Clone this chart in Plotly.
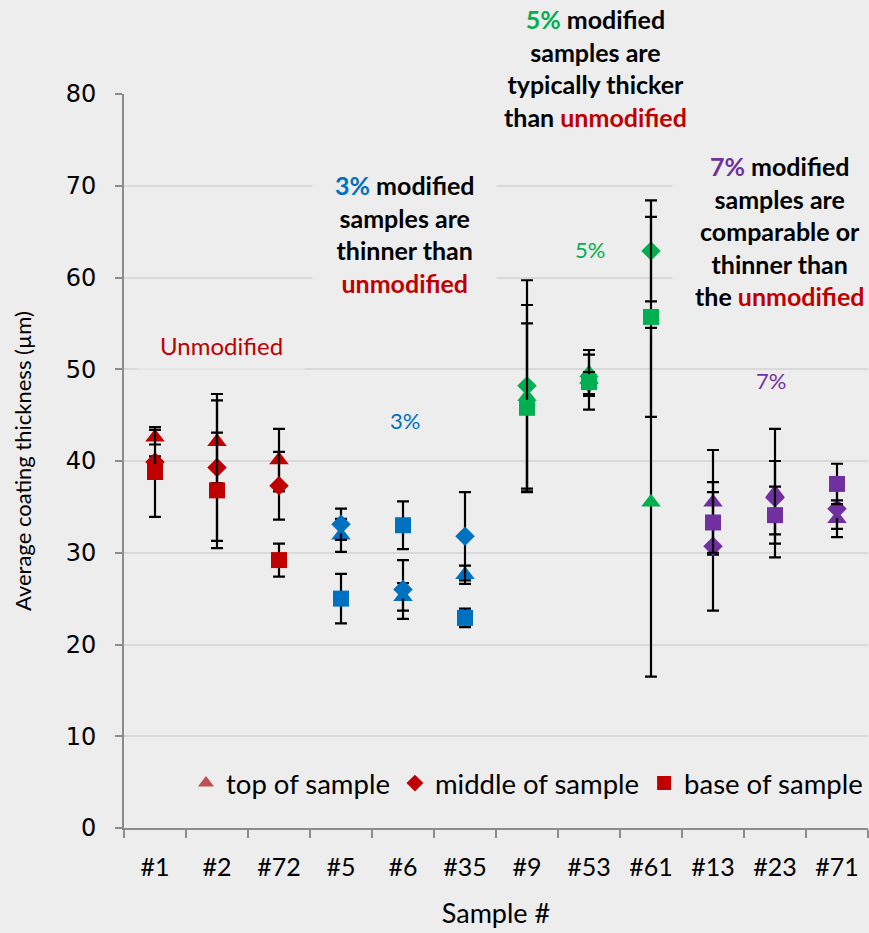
import plotly.graph_objects as go

# Sample labels along the x axis
samples = ["#1", "#2", "#72", "#5", "#6", "#35", "#9", "#53", "#61", "#13", "#23", "#71"]

# Average coating thickness (µm) and standard deviation at each sampling position
top_vals = [42.6, 42.1, 40.1, 31.9, 25.2, 27.6, 47.0, 49.6, 35.5, 35.5, 36.5, 33.7]
top_err = [0.8, 4.5, 3.4, 1.8, 1.5, 1.0, 10.0, 2.5, 19.0, 5.7, 7.0, 2.0]

middle_vals = [39.9, 39.3, 37.3, 33.1, 26.0, 31.8, 48.2, 48.5, 62.9, 30.7, 36.0, 34.8]
middle_err = [0.6, 8.0, 3.7, 1.7, 3.2, 4.8, 11.5, 1.2, 5.5, 7.0, 4.0, 2.2]

base_vals = [38.8, 36.8, 29.2, 25.0, 33.0, 22.9, 45.8, 48.6, 55.7, 33.3, 34.1, 37.5]
base_err = [4.9, 6.3, 1.8, 2.7, 2.6, 1.0, 9.2, 3.0, 10.9, 3.3, 3.1, 2.2]

# Modification level of each sample (unmodified, 3%, 5%, 7%)
groups = ["0%"] * 3 + ["3%"] * 3 + ["5%"] * 3 + ["7%"] * 3
group_colors = {"0%": "#C00000", "3%": "#0070C0", "5%": "#00B050", "7%": "#7030A0"}
point_colors = [group_colors[g] for g in groups]

BG = "#EDEDED"
GRID = "#D9D9D9"
AXIS = "#8C8C8C"
FONT = "Lato"

fig = go.Figure()

series = [
    ("top of sample", top_vals, top_err, "triangle-up", 17, 14, "#C0504D"),
    ("middle of sample", middle_vals, middle_err, "diamond", 15, 13, "#C00000"),
    ("base of sample", base_vals, base_err, "square", 16, 14, "#C00000"),
]

for name, vals, err, symbol, size, _, _ in series:
    fig.add_trace(go.Scatter(
        x=samples, y=vals, mode="markers", showlegend=False, name=name,
        marker=dict(symbol=symbol, size=size, color=point_colors, line=dict(width=0)),
        error_y=dict(type="data", array=err, symmetric=True,
                     color="#000000", thickness=2.2, width=6),
        cliponaxis=False,
    ))

# Legend entries with a single colour each
for name, vals, err, symbol, _, lsize, legend_color in series:
    fig.add_trace(go.Scatter(
        x=[None], y=[None], mode="markers", name=name,
        marker=dict(symbol=symbol, size=lsize, color=legend_color),
    ))

fig.update_layout(
    width=869, height=933,
    paper_bgcolor=BG, plot_bgcolor=BG,
    margin=dict(l=124, r=1, t=94, b=105),
    font=dict(family=FONT, size=24, color="#000000"),
    showlegend=True,
    legend=dict(orientation="h", x=1.0, xanchor="right", y=0.061, yanchor="middle",
                bgcolor="rgba(0,0,0,0)", font=dict(family=FONT, size=27.5),
                itemwidth=30, traceorder="normal"),
    xaxis=dict(
        type="category", categoryorder="array", categoryarray=samples,
        range=[-0.5, 11.5],
        showline=True, linecolor=AXIS, linewidth=2,
        ticks="outside", tickson="boundaries", ticklen=8, tickcolor=AXIS, tickwidth=1.5,
        showgrid=False, ticklabelstandoff=16,
        tickfont=dict(family=FONT, size=25),
        title=dict(text="Sample #", font=dict(family=FONT, size=27), standoff=24),
    ),
    yaxis=dict(
        range=[0, 80], dtick=10, tick0=0,
        showline=True, linecolor=AXIS, linewidth=2,
        ticks="outside", ticklen=7, tickcolor=AXIS, tickwidth=1.5,
        showgrid=True, gridcolor=GRID, gridwidth=2, zeroline=False,
        ticklabelstandoff=14,
        tickfont=dict(family="DejaVu Sans", size=24),
    ),
)

# Vertical axis title, centred on the plotting area
fig.add_annotation(text="Average coating thickness (µm)", textangle=-90,
                   xref="paper", yref="paper", x=-0.137, y=0.5,
                   xanchor="center", yanchor="middle", showarrow=False,
                   font=dict(family=FONT, size=22, color="#000000"))

# Group labels
fig.add_annotation(x=1.08, y=52.6, text="Unmodified", showarrow=False,
                   bgcolor="rgba(237,237,237,0.6)", borderpad=22,
                   font=dict(family=FONT, size=24, color="#C00000"))
fig.add_annotation(x=4.03, y=44.4, text="3%", showarrow=False,
                   font=dict(family=FONT, size=22, color="#0070C0"))
fig.add_annotation(x=7.02, y=63.0, text="5%", showarrow=False,
                   font=dict(family=FONT, size=22, color="#00B050"))
fig.add_annotation(x=9.94, y=48.8, text="7%", showarrow=False,
                   font=dict(family=FONT, size=22, color="#7030A0"))

red = "<span style='color:#C00000'>unmodified</span>"
notes = [
    (4.03, "y", 64.7, "<b><span style='color:#0070C0'>3%</span> modified<br>samples are<br>thinner than<br>" + red + "</b>"),
    (7.10, "paper", 1.035, "<b><span style='color:#00B050'>5%</span> modified<br>samples are<br>typically thicker<br>than " + red + "</b>"),
    (10.08, "y", 65.1, "<b><span style='color:#7030A0'>7%</span> modified<br>samples are<br>comparable or<br>thinner than<br>the " + red + "</b>"),
]
for nx, yref, ny, txt in notes:
    fig.add_annotation(x=nx, xref="x", y=ny, yref=yref, yanchor="middle", xanchor="center",
                       text=txt, showarrow=False, align="center",
                       bgcolor=BG, borderpad=22,
                       font=dict(family=FONT, size=25, color="#000000"))

fig.write_html("out.html")
